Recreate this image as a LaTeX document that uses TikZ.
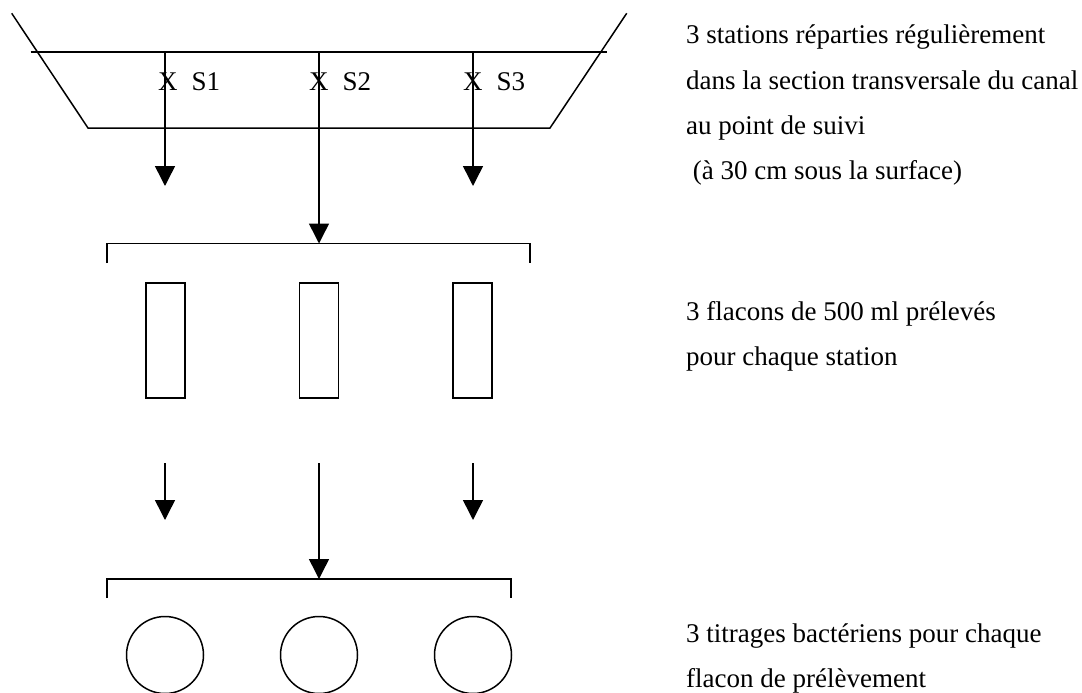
\documentclass[tikz,border=0pt]{standalone}
\usepackage{fontspec}
\setmainfont{Liberation Serif}
\usetikzlibrary{arrows.meta}
\begin{document}
\begin{tikzpicture}[x=1pt,y=-1pt,
  line/.style={line width=1.5pt},
  flow/.style={line width=1.5pt,-{Triangle[width=20pt,length=20pt]}},
  flask/.style={draw,line width=1.5pt,minimum width=39pt,minimum height=115pt,inner sep=0pt},
  assay/.style={draw,circle,line width=1.5pt,minimum size=77pt,inner sep=0pt},
  note/.style={anchor=base west,inner sep=0pt,font=\fontsize{27}{45}\selectfont},
  tag/.style={anchor=base west,inner sep=0pt,font=\fontsize{27}{32}\selectfont}]
\useasboundingbox (0,0) rectangle (1082,693);

% canal cross-section: banks, bed and water surface
\coordinate (lt) at (11.7,13.3);
\coordinate (lb) at (88,128);
\coordinate (rb) at (550,128);
\coordinate (rt) at (626.7,13.3);
\coordinate (wl) at (30.7,52);
\coordinate (wr) at (607,52);
\draw[line] (lt) -- (lb) -- (rb) -- (rt);
\draw[line] (wl) -- (wr);

% sampling stations on the surface
\coordinate (s1) at (165,52);
\coordinate (s2) at (319,52);
\coordinate (s3) at (473,52);
\node[tag] (l1) at (158,90) {X\hspace{14pt}S1};
\node[tag] (l2) at (309,90) {X\hspace{14pt}S2};
\node[tag] (l3) at (463,90) {X\hspace{14pt}S3};

% first bracket
\coordinate (p1) at (107,263);
\coordinate (p2) at (107,243.5);
\coordinate (p3) at (530,243.5);
\coordinate (p4) at (530,263);
\draw[line] (p1) -- (p2) -- (p3) -- (p4);

\coordinate (a1) at (165,186);
\coordinate (a2) at (319,243.5);
\coordinate (a3) at (473,186);
\draw[flow] (s1) -- (a1);
\draw[flow] (s2) -- (a2);
\draw[flow] (s3) -- (a3);

% sampling flasks
\node[flask] (f1) at (165.5,340.5) {};
\node[flask] (f2) at (319,340.5) {};
\node[flask] (f3) at (472.5,340.5) {};

% second row of arrows
\coordinate (c1) at (165,463);
\coordinate (c2) at (319,463);
\coordinate (c3) at (473,463);
\coordinate (d1) at (165,520);
\coordinate (d2) at (319,579);
\coordinate (d3) at (473,520);
\draw[flow] (c1) -- (d1);
\draw[flow] (c2) -- (d2);
\draw[flow] (c3) -- (d3);

% second bracket
\coordinate (q1) at (107,598);
\coordinate (q2) at (107,579);
\coordinate (q3) at (511,579);
\coordinate (q4) at (511,598);
\draw[line] (q1) -- (q2) -- (q3) -- (q4);

% bacterial counts
\node[assay] (t1) at (165,655) {};
\node[assay] (t2) at (319,655) {};
\node[assay] (t3) at (473,655) {};

% explanatory notes
\node[note] (n1) at (686,44) {3 stations réparties régulièrement};
\node[note] (n2) at (686,89) {dans la section transversale du canal};
\node[note] (n3) at (686,134) {au point de suivi};
\node[note] (n4) at (692.75,179) {(à 30 cm sous la surface)};
\node[note] (n5) at (686,320) {3 flacons de 500 ml prélevés};
\node[note] (n6) at (686,365) {pour chaque station};
\node[note] (n7) at (686,642) {3 titrages bactériens pour chaque};
\node[note] (n8) at (686,687) {flacon de prélèvement};
\end{tikzpicture}
\end{document}
